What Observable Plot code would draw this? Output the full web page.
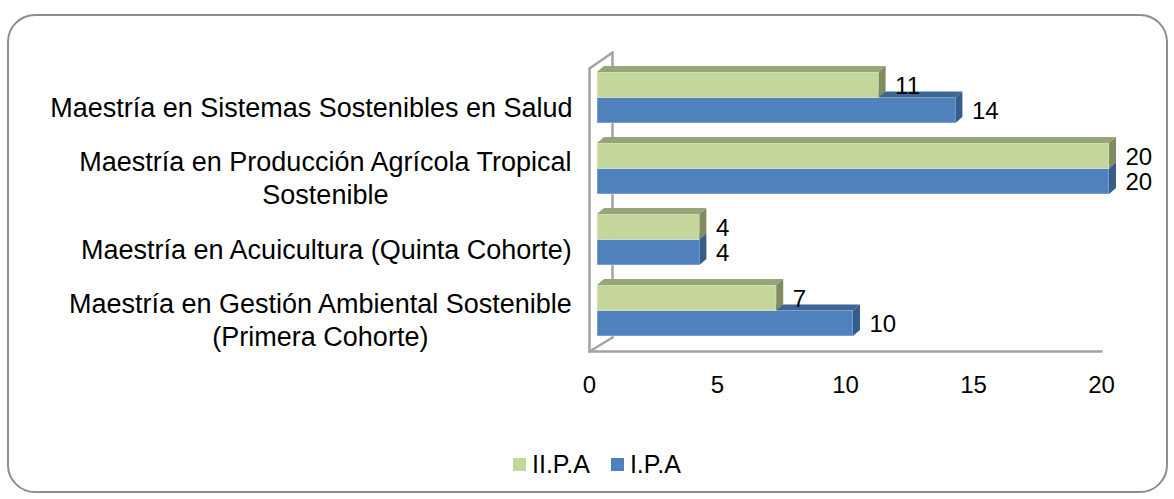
<!DOCTYPE html>
<html>
<head>
<meta charset="utf-8">
<script src="https://cdn.jsdelivr.net/npm/d3@7"></script>
<script src="https://cdn.jsdelivr.net/npm/@observablehq/plot@0.6"></script>
<style>
  html, body { margin: 0; padding: 0; background: #fff; }
  #wrap { position: relative; width: 1174px; height: 499px; overflow: hidden; font-family: "Liberation Sans", Arial, sans-serif; }
  #border { position: absolute; left: 7px; top: 14px; width: 1157px; height: 475px; border: 2px solid #8e8e8e; border-radius: 28px; }
  #chart { position: absolute; left: 0; top: 0; }
  #legend { position: absolute; left: 513px; top: 449px; height: 30px; display: flex; align-items: center; font-size: 25px; color: #000; white-space: nowrap; }
  .sw { display: inline-block; width: 13px; height: 13px; margin-right: 6px; }
  .item { display: flex; align-items: center; margin-right: 21px; }
</style>
</head>
<body>
<div id="wrap">
  <div id="border"></div>
  <div id="chart"></div>
  <div id="legend"></div>
</div>
<script>
// ---- data ----
const categories = [
  "Maestría en Sistemas Sostenibles en Salud",
  "Maestría en Producción Agrícola Tropical\nSostenible",
  "Maestría en Acuicultura (Quinta Cohorte)",
  "Maestría en Gestión Ambiental Sostenible\n(Primera Cohorte)"
];
const seriesNames = ["II.P.A", "I.P.A"];
const valuesII = [11, 20, 4, 7];
const valuesI = [14, 20, 4, 10];
const xTicks = [0, 5, 10, 15, 20];
const colors = {
  "II.P.A": {front: "#C3D69B", top: "#97A579", side: "#808C60"},
  "I.P.A": {front: "#4F81BD", top: "#3D6596", side: "#365C8A"}
};

// ---- layout ----
const W = 1174, H = 499;
const mL = 597, mR = 65, mT = 72, mB = 143;
const xMax = 20, nGroups = categories.length;
const xUnit = (W - mL - mR) / xMax;     // px per x unit
const yUnit = (H - mT - mB) / nGroups;  // px per group
const bh = 25.5 / yUnit;                // bar thickness in group units
const dX = 7 / xUnit, dY = 6 / yUnit;   // 3D depth

const bars = [];
categories.forEach((c, g) => {
  bars.push({cat: c, g, series: "II.P.A", s: 0, v: valuesII[g]});
  bars.push({cat: c, g, series: "I.P.A", s: 1, v: valuesI[g]});
});
bars.forEach((b, i) => {
  b.id = i;
  b.yt = b.g + b.s * bh;
  b.yb = b.yt + bh;
  b.yc = (b.yt + b.yb) / 2;
});

function topFace(b) {
  return [
    {id: b.id, x: 0, y1: b.yt, y2: b.yt},
    {id: b.id, x: dX, y1: b.yt, y2: b.yt - dY},
    {id: b.id, x: b.v, y1: b.yt, y2: b.yt - dY},
    {id: b.id, x: b.v + dX, y1: b.yt - dY, y2: b.yt - dY}
  ];
}
function sideFace(b) {
  return [
    {id: b.id, y: b.yb, x1: b.v, x2: b.v},
    {id: b.id, y: b.yb - dY, x1: b.v, x2: b.v + dX},
    {id: b.id, y: b.yt, x1: b.v, x2: b.v + dX},
    {id: b.id, y: b.yt - dY, x1: b.v + dX, x2: b.v + dX}
  ];
}

function barMarks(name) {
  const bs = bars.filter(b => b.series === name);
  const col = colors[name];
  return [
    Plot.rect(bs, {x1: 0, x2: "v", y1: "yt", y2: "yb", fill: col.front, stroke: "#ffffff", strokeOpacity: 0.45, strokeWidth: 1}),
    Plot.areaY(bs.flatMap(topFace), {x: "x", y1: "y1", y2: "y2", z: "id", fill: col.top, curve: "linear"}),
    Plot.areaX(bs.flatMap(sideFace), {y: "y", x1: "x1", x2: "x2", z: "id", fill: col.side, curve: "linear"})
  ];
}

// frame (3D wall + floor)
const backX = 15 / xUnit, frontX = -8 / xUnit;
const backTop = -20 / yUnit, backBot = nGroups - 19 / yUnit;
const frontTop = -4 / yUnit, frontBot = nGroups - 5 / yUnit;
const frameSegs = [
  {id: "back", x: backX, y: backTop}, {id: "back", x: backX, y: backBot},
  {id: "front", x: frontX, y: frontTop}, {id: "front", x: frontX, y: frontBot},
  {id: "topdiag", x: frontX, y: frontTop}, {id: "topdiag", x: backX, y: backTop},
  {id: "botdiag", x: backX, y: backBot}, {id: "botdiag", x: frontX, y: frontBot},
  {id: "floor", x: frontX, y: frontBot}, {id: "floor", x: xMax + frontX, y: frontBot}
];

// category label widths (for centered multi-line, right-aligned block)
const catFont = 27;
const ctx = document.createElement("canvas").getContext("2d");
ctx.font = `${catFont}px "Liberation Sans", Arial, sans-serif`;
const catMarks = categories.map((c, g) => {
  const w = Math.max(...c.split("\n").map(l => ctx.measureText(l).width));
  return Plot.text([c], {
    frameAnchor: "left", y: () => g + bh, text: d => d,
    textAnchor: "middle", dx: -25 - w / 2, dy: 8,
    lineHeight: 1.22, fontSize: catFont, fill: "#000"
  });
});

const chart = Plot.plot({
  width: W, height: H,
  marginLeft: mL, marginRight: mR, marginTop: mT, marginBottom: mB,
  x: {domain: [0, xMax], axis: null},
  y: {domain: [0, nGroups], reverse: true, axis: null},
  style: {background: "transparent", fontFamily: '"Liberation Sans", Arial, sans-serif', overflow: "visible"},
  marks: [
    Plot.line(frameSegs, {x: "x", y: "y", z: "id", stroke: "#a3a3a3", strokeWidth: 2.5}),
    ...barMarks("I.P.A"),
    ...barMarks("II.P.A"),
    Plot.text(bars, {x: "v", y: "yc", text: d => String(d.v), textAnchor: "start", dx: 16, dy: 1, fontSize: 24, fill: "#000"}),
    Plot.text(xTicks, {x: d => d, frameAnchor: "bottom", dy: 36, dx: -8, text: d => String(d), fontSize: 24, fill: "#000"}),
    ...catMarks
  ]
});
document.getElementById("chart").appendChild(chart);

// legend
const legend = document.getElementById("legend");
seriesNames.forEach(n => {
  const it = document.createElement("span");
  it.className = "item";
  const sw = document.createElement("span");
  sw.className = "sw";
  sw.style.background = colors[n].front;
  it.appendChild(sw);
  it.appendChild(document.createTextNode(n));
  legend.appendChild(it);
});
</script>
</body>
</html>
